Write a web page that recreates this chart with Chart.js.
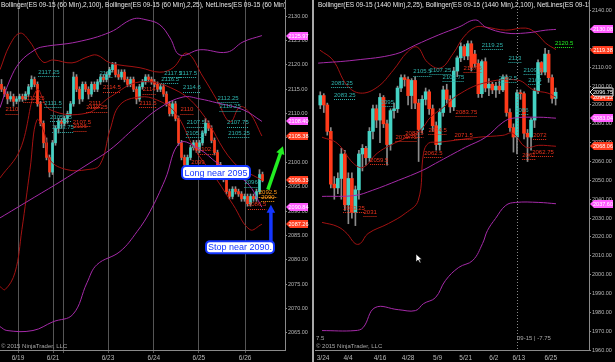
<!DOCTYPE html>
<html>
<head>
<meta charset="utf-8">
<script src="https://cdn.jsdelivr.net/npm/chart.js@4.4.1/dist/chart.umd.min.js"></script>
<style>
  body { margin: 0; background: #000; }
  #wrap { position: relative; width: 615px; height: 362px; background: #000; overflow: hidden; }
  #left { position: absolute; left: 0; top: 0; width: 313px; height: 362px; }
  #right { position: absolute; left: 315px; top: 0; width: 300px; height: 362px; }
  #sep { position: absolute; left: 312px; top: 0; width: 2px; height: 362px; background: #a8a8a8; }
</style>
</head>
<body>
<div id="wrap">
  <canvas id="left" width="313" height="362"></canvas>
  <div id="sep"></div>
  <canvas id="right" width="300" height="362"></canvas>
</div>
<script>
const FONT = '"Liberation Sans", Arial, sans-serif';
const UP = '#45d2c4';
const DOWN = '#ff3a1a';
const WICK = '#8c8c8c';
const BAND25 = '#a31212';
const BAND100 = '#a52aa8';
const TEAL = '#2fb3ad';
const LBL_RED = '#e8321c';
const ORANGE = '#ff9a1a';
const GREEN = '#22ee22';
const MAGENTA = '#ff5cff';
const TAG_RED = '#ff3d1f';

// ---------- 60 min panel (left) ----------
// [open, high, low, close], one per hourly bar
const leftCandles = [
  [2116, 2117, 2114.5, 2115], [2115, 2115.5, 2113.5, 2114], [2114, 2114.5, 2112, 2113],
  [2113, 2114.5, 2112.5, 2113.5], [2113.5, 2114, 2111.5, 2112.5], [2112.5, 2113.5, 2112, 2113],
  [2113, 2114, 2112.5, 2113.5], [2113.5, 2114, 2112.5, 2113], [2113, 2114.5, 2112.75, 2114],
  [2114, 2116, 2113.5, 2115.5], [2115.5, 2117.75, 2115, 2117], [2117, 2117.5, 2115.5, 2116],
  [2116, 2116.5, 2111.5, 2112], [2112, 2112.5, 2107.5, 2108], [2108, 2108.5, 2103, 2104],
  [2104, 2105, 2100.5, 2101], [2101, 2101.5, 2097, 2098], [2098, 2104.5, 2097.5, 2104],
  [2104, 2107.5, 2103.5, 2107], [2107, 2109, 2106, 2108.5], [2108.5, 2109, 2107, 2108],
  [2108, 2109.5, 2107.5, 2109], [2109, 2110.5, 2108, 2110], [2110, 2112.5, 2109.5, 2112],
  [2112, 2118.5, 2111.5, 2117.5], [2117.5, 2118, 2114.5, 2115], [2115, 2115.5, 2112, 2113],
  [2113, 2116.5, 2112.5, 2116], [2116, 2116.5, 2114.5, 2115], [2115, 2115.5, 2113, 2114],
  [2114, 2116.5, 2113.5, 2116], [2116, 2116.5, 2114.5, 2115], [2115, 2117, 2114.5, 2116.5],
  [2116.5, 2118, 2116, 2117.5], [2117.5, 2118, 2116.5, 2117], [2117, 2118.5, 2116.5, 2118],
  [2118, 2119.5, 2117.5, 2119], [2119, 2120.5, 2118.5, 2120], [2120, 2120.5, 2117.5, 2118],
  [2118, 2119, 2117, 2117.5], [2117.5, 2119, 2117, 2118.5], [2118.5, 2119, 2116.5, 2117],
  [2117, 2117.5, 2115.5, 2116], [2116, 2117.5, 2115.5, 2117], [2117, 2117.5, 2114.5, 2115],
  [2115, 2115.5, 2112, 2113], [2113, 2116, 2112.5, 2115.5], [2115.5, 2117, 2115, 2116.5],
  [2116.5, 2118, 2116, 2117.5], [2117.5, 2118, 2116.5, 2117], [2117, 2117.5, 2116, 2116.5],
  [2116.5, 2117, 2115.5, 2116], [2116, 2116.5, 2114.5, 2115], [2115, 2116, 2114.5, 2115.5],
  [2115.5, 2116, 2113.5, 2114], [2114, 2114.5, 2111.5, 2112], [2112, 2112.5, 2109.5, 2110],
  [2110, 2112.5, 2109.5, 2112], [2112, 2112.5, 2108.5, 2109], [2109, 2109.5, 2103.5, 2104],
  [2104, 2104.5, 2100.5, 2101], [2101, 2101.5, 2099, 2099.5], [2099.5, 2101.5, 2099, 2101],
  [2101, 2103.5, 2100.5, 2103], [2103, 2104.5, 2102.5, 2104], [2104, 2104.5, 2102, 2102.5],
  [2102.5, 2104.5, 2102, 2104], [2104, 2106.5, 2103.5, 2106], [2106, 2109, 2105.5, 2108],
  [2108, 2108.5, 2106.5, 2107], [2107, 2107.5, 2104, 2104.5], [2104.5, 2105, 2101.5, 2102],
  [2102, 2102.5, 2099, 2099.5], [2099.5, 2100, 2097.5, 2098], [2098, 2098.5, 2096, 2096.5],
  [2096.5, 2097, 2093.5, 2094], [2094, 2094.5, 2092.5, 2093], [2093, 2095, 2092.5, 2094.5],
  [2094.5, 2095, 2093.5, 2094], [2094, 2094.5, 2093, 2093.5], [2093.5, 2094, 2092, 2092.5],
  [2092.5, 2093.5, 2092, 2093], [2093, 2093.5, 2091, 2091.5], [2091.5, 2093.5, 2091, 2093],
  [2093, 2093.5, 2092, 2092.5], [2092.5, 2094.5, 2092, 2094], [2094, 2098.5, 2093.5, 2097.5],
  [2097.5, 2098, 2096, 2096.25]
];
// Bollinger(25) and Bollinger(100) read as [bar, price]
const leftUpper25 = [[-0.5, 2119], [2.8, 2124.1], [6.2, 2126.5], [9.5, 2124.7], [13.8, 2120.6], [17.2, 2121],
  [23.5, 2120.4], [28.5, 2121.6], [31.8, 2122], [36.2, 2120.4], [46.2, 2119.4], [52.8, 2118.5], [57.2, 2119.4],
  [61.8, 2122.4], [67.2, 2117.5], [71.8, 2112.8], [76.2, 2108.3], [79.5, 2111.4], [82.8, 2110.1], [86.8, 2105.4]];
const leftMid25 = [[-0.5, 2096.8], [6.2, 2102.6], [11.8, 2114.9], [16.2, 2110.8], [28.5, 2110.1], [36.2, 2113.4],
  [46.2, 2116.5], [57.8, 2114.9], [66.2, 2110.6], [77.2, 2100.1], [86.8, 2096.3]];
const leftLower25 = [[-0.5, 2074.5], [1.2, 2073.9], [4.5, 2077.4], [6.8, 2086.2], [9.5, 2098.5], [11.8, 2108.7],
  [14.5, 2105.6], [16.2, 2100.5], [21.8, 2098.5], [28.5, 2098.5], [32.8, 2099.5], [36.2, 2106.7], [39.5, 2111.8],
  [46.2, 2113.4], [51.8, 2112.8], [57.8, 2110.3], [64.5, 2102.6], [71.8, 2096.4], [77.2, 2091.3], [82.8, 2086.2],
  [86.8, 2087.3]];
const leftUpper100 = [[-0.5, 2111.2], [2.8, 2116.9], [6.2, 2120.6], [11.2, 2123.1], [13.8, 2123.7], [25.2, 2124.7],
  [36.2, 2126.7], [43.8, 2129.4], [48.5, 2129.2], [52.8, 2128.2], [56.2, 2125.5], [59.5, 2122], [66.2, 2123.1],
  [75.2, 2122.6], [80.5, 2124.7], [86.8, 2126]];
const leftMid100 = [[-0.5, 2088.6], [9.5, 2092.3], [19.5, 2096], [28.5, 2099.5], [36.2, 2102.6], [44.5, 2107.1],
  [52.8, 2111.2], [60.5, 2113.4], [66.2, 2113], [71.8, 2112.2], [80.5, 2110.8], [86.8, 2108.4]];
const leftLower100 = [[-0.5, 2066.3], [1.8, 2065.5], [10.5, 2065.5], [17.2, 2067.3], [23.8, 2068.8], [28.5, 2075.3],
  [31.8, 2079], [39.5, 2081.7], [45.2, 2085.8], [49.5, 2089.9], [54.5, 2096.4], [59.5, 2104], [66.2, 2102.6],
  [71.8, 2099.9], [81.8, 2095.8], [86.8, 2090.8]];
// NetLines labels [bar, price, text]
const leftTealLabels = [[15.8, 2118.5, '2117.25'], [17.2, 2112.2, '2111.5'], [34.8, 2118.3, '2117'],
  [57.2, 2118.3, '2117.5'], [62.2, 2118.3, '2117.5'], [56.2, 2117.1, '2116.5'], [63.5, 2115.3, '2114.6'],
  [75.5, 2113.2, '2112.25'], [76.2, 2111.4, '2110.25'], [19.8, 2109.3, '2105.75'], [20.5, 2107.1, '2103.75'],
  [64.8, 2108.1, '2107.5'], [78.8, 2108.1, '2107.75'], [64.5, 2106, '2105.5'], [79.2, 2106, '2105.25'],
  [83.2, 2095.8, '2096']];
const leftRedLabels = [[3.5, 2110.8, '2110'], [10.8, 2113.2, '2112.25'], [36.8, 2115.3, '2114.5'],
  [49.2, 2114.9, '2114'], [48.8, 2112.2, '2111.5'], [61.8, 2110.8, '2110'], [31.8, 2111.2, '2110.25'],
  [31.2, 2112.2, '2111'], [26.8, 2108.3, '2107.5'], [26.2, 2107.3, '2106'], [68.5, 2102.6, '2102.5'],
  [65.5, 2099.9, '2099'], [85.2, 2091.3, '2086.5']];
const leftOrangeLabels = [[88.8, 2093.8, '2092.5'], [88.8, 2092.9, '2090']];
const leftMagentaTags = [2125.97, 2108.40, 2090.84];
const leftRedTags = [2105.38, 2096.33, 2087.26];
const leftYTicks = [2130, 2125, 2120, 2115, 2110, 2105, 2100, 2095, 2090, 2085, 2080, 2075, 2070, 2065];
const leftDayBars = [5.5, 17.2, 20.5, 35.5, 50.8, 65.8, 81.2];
const leftDayLabels = ['6/19', '6/21', '', '6/23', '6/24', '6/25', '6/26'];

// ---------- 1440 min panel (right) ----------
const rightCandles = [
  [2090, 2097, 2088, 2095], [2095, 2096, 2086, 2090], [2090, 2091, 2074, 2076], [2076, 2078, 2046, 2048],
  [2048, 2052, 2040, 2046], [2046, 2054, 2043, 2051], [2051, 2067, 2040, 2064], [2064, 2066, 2034, 2037],
  [2037, 2054, 2027, 2051], [2051, 2054, 2030, 2033], [2033, 2047, 2026, 2045], [2045, 2066, 2040, 2064],
  [2064, 2069, 2055, 2067], [2067, 2068, 2058, 2062], [2062, 2078, 2060, 2076], [2076, 2090, 2072, 2088],
  [2088, 2090, 2078, 2082], [2082, 2096, 2070, 2094], [2094, 2095, 2078, 2080], [2080, 2082, 2058, 2069],
  [2069, 2088, 2066, 2087], [2087, 2091, 2083, 2088], [2088, 2100, 2086, 2099], [2099, 2106, 2097, 2104.5],
  [2104.5, 2106, 2100, 2103.5], [2103.5, 2105, 2090, 2095], [2095, 2104, 2088, 2103], [2103, 2105, 2088, 2091],
  [2091, 2093, 2060, 2077], [2077, 2095, 2075, 2093], [2093, 2099, 2090, 2097], [2097, 2098, 2085, 2088],
  [2088, 2090, 2076, 2079], [2079, 2081, 2066, 2069], [2069, 2088, 2066, 2086], [2086, 2100, 2084, 2098],
  [2098, 2101, 2091, 2093], [2093, 2095, 2086, 2089], [2089, 2110, 2087, 2108], [2108, 2116, 2105, 2115],
  [2115, 2123, 2113, 2121], [2121, 2122, 2114, 2116], [2116, 2124, 2114, 2122.5], [2122.5, 2124, 2108, 2110],
  [2117, 2119, 2110, 2112], [2112, 2114, 2094, 2096], [2096, 2114, 2094, 2113], [2113, 2115, 2097, 2099],
  [2099, 2104, 2095, 2101], [2101, 2102, 2096, 2098], [2098, 2102, 2094, 2100], [2100, 2103, 2096, 2098],
  [2098, 2106, 2097, 2104.5], [2104.5, 2106, 2084, 2086], [2086, 2088, 2076, 2078], [2078, 2080, 2065, 2073],
  [2073, 2098, 2064, 2096.5], [2096.5, 2098, 2093, 2096], [2096, 2097, 2072, 2075], [2075, 2077, 2060, 2073],
  [2073, 2083, 2066, 2082], [2082, 2099, 2078, 2097.5], [2097.5, 2114, 2096, 2112.5], [2112.5, 2113, 2106, 2107.5],
  [2107.5, 2120, 2106, 2117], [2117, 2119, 2102, 2104.5], [2104.5, 2106, 2091, 2093.5], [2093.5, 2099, 2090, 2096.75]
];
const rightUpper25 = [[0.9, 2119.1], [4.6, 2113.8], [8.6, 2100.5], [12.4, 2096.3], [17.2, 2099.4], [21.8, 2108.5],
  [25.8, 2118.1], [28.6, 2120.7], [31.5, 2112.7], [35.2, 2109.6], [38.9, 2117.5], [41.8, 2126], [45.2, 2131.3],
  [48.1, 2131.3], [53.8, 2129.7], [59.5, 2130.8], [62.4, 2128.2], [65.2, 2122.8], [68.1, 2119.4]];
const rightMid25 = [[1.5, 2072.9], [5.8, 2069.7], [10.4, 2059.1], [13.2, 2056.9], [17.2, 2064.4], [20.9, 2068.6],
  [25.8, 2072.9], [29.5, 2076.6], [32.4, 2083.5], [36.1, 2088.8], [40.1, 2095.2], [47.5, 2101.6], [57.2, 2103.2],
  [61.8, 2097.9], [65.8, 2096.3], [68.1, 2094.1]];
const rightLower25 = [[1.5, 2027.7], [5.8, 2025.6], [8.6, 2021.8], [10.9, 2016.5], [12.4, 2016.5], [14.6, 2021.8],
  [20.4, 2027.1], [25.2, 2032.5], [28.9, 2039.4], [30.4, 2064.4], [31.8, 2069.7], [34.6, 2070.2], [39.5, 2071.3],
  [46.1, 2072.9], [53, 2073.9], [55.8, 2075], [59.5, 2067.6], [63.2, 2068.6], [68.1, 2068.1]];
const rightUpper100 = [[0.4, 2112.2], [10.9, 2113.8], [22.4, 2117], [28.1, 2121.8], [34.6, 2127.1], [40.4, 2131.3],
  [45.2, 2135.1], [48.1, 2131.3], [53.8, 2128.2], [59.5, 2128.2], [65.2, 2129.7], [68.1, 2130.1]];
const rightMid100 = [[1.5, 2041.5], [10.9, 2042], [15.8, 2044.7], [23.2, 2050], [30.1, 2055.3], [33.8, 2059],
  [42.4, 2067.6], [48.1, 2072.9], [53, 2080.8], [55.8, 2083], [63.2, 2083.5], [68.1, 2083]];
const rightLower100 = [[1.5, 1970.3], [10.9, 1970.3], [13.2, 1971.9], [16.6, 1982.5], [23.2, 1981.4], [28.1, 1980.9],
  [30.4, 1984.6], [33.8, 1987.8], [36.6, 1996.8], [40.4, 2003.8], [44.4, 2007.5], [47.2, 2016.5], [48.6, 2023.4],
  [50.9, 2029.8], [53.8, 2036.7], [56.6, 2038.3], [63.2, 2038.3], [68.1, 2037.6]];
const rightTealLabels = [[50, 2121.8, '2119.25'], [56.4, 2114.9, '2113'], [30.1, 2107.6, '2105.5'],
  [35.2, 2108.5, '2107.25'], [38.9, 2104.8, '2102.75'], [54.4, 2104.2, '2092.5'], [7.2, 2101.6, '2083.25'],
  [8, 2095.2, '2083.25'], [61.5, 2108.5, '2109.5'], [62.1, 2103.2, '2104'], [58.4, 2087.2, '2086'],
  [20.1, 2091.5, '2095']];
const rightRedLabels = [[44.4, 2109.5, '2107.5'], [42.6, 2086.2, '2083.75'], [25.5, 2072.9, '2079.75'],
  [27.8, 2075, '2082.5'], [34.4, 2076.6, '2074.5'], [41.8, 2073.9, '2071.5'], [33.2, 2064.4, '2062.5'],
  [17.8, 2060.6, '2059.5'], [10.6, 2035.1, '2033.25'], [15.2, 2033, '2031'], [63.5, 2073.9, '2072'],
  [60.4, 2063.3, '2061'], [64.4, 2064.9, '2062.75']];
const rightGreenLabels = [[70.4, 2122.8, '2120.5']];
const rightMagentaTags = [2130.08, 2083.04, 2037.60];
const rightRedTags = [2119.38, 2094.12, 2068.06];
const rightLastTag = 2096.75;
const rightYTicks = [2140, 2130, 2120, 2110, 2100, 2090, 2080, 2070, 2060, 2050, 2040, 2030, 2020, 2010,
  2000, 1990, 1980, 1970, 1960];
const rightDates = [1.8, 8.9, 18, 26, 34.4, 42.4, 50.4, 57.5, 66.6];
const rightDateLabels = ['3/24', '4/4', '4/16', '4/28', '5/9', '5/21', '6/2', '6/13', '6/25'];
const rightCursorBar = 56.9;

Chart.defaults.font.family = FONT;
Chart.defaults.font.size = 7;
Chart.defaults.color = '#b8b8b8';

const pts = arr => arr.map(([x, y]) => ({ x, y }));

function candleSets(candles, start, bodyW) {
  return [
    {
      type: 'bar', order: 3, grouped: false, barThickness: 1, backgroundColor: WICK,
      data: candles.map((c, i) => ({ x: start + i, y: [c[2], c[1]] }))
    },
    {
      type: 'bar', order: 2, grouped: false, barThickness: bodyW,
      backgroundColor: candles.map(c => c[3] >= c[0] ? UP : DOWN),
      data: candles.map((c, i) => ({ x: start + i, y: [Math.min(c[0], c[3]), Math.max(c[0], c[3])] }))
    }
  ];
}

function band(data, color) {
  return { type: 'line', order: 1, data: pts(data), borderColor: color, borderWidth: 1,
    pointRadius: 0, tension: 0.4, fill: false };
}

function drawTag(ctx, x0, py, w, fill, stroke, text) {
  ctx.beginPath();
  ctx.moveTo(x0, py);
  ctx.lineTo(x0 + 4, py - 4);
  ctx.lineTo(x0 + w, py - 4);
  ctx.lineTo(x0 + w, py + 4);
  ctx.lineTo(x0 + 4, py + 4);
  ctx.closePath();
  ctx.fillStyle = fill;
  ctx.fill();
  if (stroke) { ctx.strokeStyle = stroke; ctx.lineWidth = 1; ctx.stroke(); }
  ctx.fillStyle = '#fff';
  ctx.font = '5.5px ' + FONT;
  ctx.textAlign = 'center';
  ctx.textBaseline = 'middle';
  ctx.fillText(text, x0 + 3 + (w - 3) / 2, py + 0.5);
}

function drawArrow(ctx, x1, y1, x2, y2, color) {
  const ang = Math.atan2(y2 - y1, x2 - x1);
  const hl = 9;
  ctx.strokeStyle = color;
  ctx.fillStyle = color;
  ctx.lineWidth = 3.5;
  ctx.beginPath();
  ctx.moveTo(x1, y1);
  ctx.lineTo(x2 - hl * 0.8 * Math.cos(ang), y2 - hl * 0.8 * Math.sin(ang));
  ctx.stroke();
  ctx.beginPath();
  ctx.moveTo(x2, y2);
  ctx.lineTo(x2 - hl * Math.cos(ang - 0.5), y2 - hl * Math.sin(ang - 0.5));
  ctx.lineTo(x2 - hl * Math.cos(ang + 0.5), y2 - hl * Math.sin(ang + 0.5));
  ctx.closePath();
  ctx.fill();
}

function drawCallout(ctx, cx, cy, w, h, text) {
  const x = cx - w / 2, y = cy - h / 2;
  ctx.beginPath();
  ctx.roundRect(x, y, w, h, 4);
  ctx.fillStyle = '#fff';
  ctx.fill();
  ctx.strokeStyle = '#1436ff';
  ctx.lineWidth = 2;
  ctx.stroke();
  ctx.fillStyle = '#1436ff';
  ctx.font = '9px ' + FONT;
  ctx.textAlign = 'center';
  ctx.textBaseline = 'middle';
  ctx.fillText(text, cx, cy + 0.5);
}

function drawCursor(ctx, x, y) {
  // mouse pointer left in the screenshot
  ctx.beginPath();
  ctx.moveTo(x, y);
  ctx.lineTo(x, y + 8);
  ctx.lineTo(x + 2, y + 6);
  ctx.lineTo(x + 4, y + 9);
  ctx.lineTo(x + 5, y + 8.5);
  ctx.lineTo(x + 3.5, y + 5.5);
  ctx.lineTo(x + 6, y + 5.5);
  ctx.closePath();
  ctx.fillStyle = '#fff';
  ctx.fill();
  ctx.strokeStyle = '#000';
  ctx.lineWidth = 0.6;
  ctx.stroke();
}

function overlay(cfg) {
  return {
    id: 'overlay',
    afterDatasetsDraw(chart) {
      const { ctx, chartArea: a } = chart;
      const x = chart.scales.x, y = chart.scales.y;
      ctx.save();
      ctx.beginPath();
      ctx.rect(a.left, a.top, a.right - a.left, a.bottom - a.top);
      ctx.clip();
      if (cfg.cursorBar !== undefined) {
        const cx = Math.round(x.getPixelForValue(cfg.cursorBar)) + 0.5;
        ctx.strokeStyle = '#8a8a8a';
        ctx.setLineDash([1, 2]);
        ctx.lineWidth = 1;
        ctx.beginPath(); ctx.moveTo(cx, a.top); ctx.lineTo(cx, a.bottom); ctx.stroke();
        ctx.setLineDash([]);
      }
      ctx.font = '6px ' + FONT;
      ctx.textAlign = 'center';
      ctx.textBaseline = 'middle';
      cfg.labels.forEach(([list, color]) => {
        list.forEach(([i, p, t]) => {
          const px = x.getPixelForValue(i), py = y.getPixelForValue(p);
          ctx.fillStyle = color;
          ctx.fillText(t, px, py);
          const w = ctx.measureText(t).width;
          ctx.strokeStyle = color;
          ctx.lineWidth = 1;
          ctx.setLineDash([1, 1]);
          ctx.beginPath();
          ctx.moveTo(px - w / 2, Math.round(py) + 4.5);
          ctx.lineTo(px + w / 2, Math.round(py) + 4.5);
          ctx.stroke();
          ctx.setLineDash([]);
        });
      });
      // header and footer
      ctx.font = '6.5px ' + FONT;
      ctx.textAlign = 'left';
      ctx.fillStyle = '#e6e6e6';
      ctx.fillText(cfg.header, a.left + cfg.headerX, 5);
      ctx.font = '6px ' + FONT;
      ctx.fillStyle = '#a8a8a8';
      ctx.fillText('\u00a9 2015 NinjaTrader, LLC', a.left + 1, a.bottom - 4);
      (cfg.notes || []).forEach(([nx, t]) => ctx.fillText(t, a.left + nx, a.bottom - 12));
      if (cfg.pointer) drawCursor(ctx, a.left + cfg.pointer[0], cfg.pointer[1]);
      ctx.restore();
    },
    afterDraw(chart) {
      const { ctx, chartArea: a } = chart;
      const x = chart.scales.x, y = chart.scales.y;
      ctx.save();
      cfg.tags.forEach(([list, fill, stroke]) => {
        list.forEach(v => drawTag(ctx, a.right + 1, Math.round(y.getPixelForValue(v)), cfg.tagW, fill, stroke, v.toFixed(2)));
      });
      (cfg.arrows || []).forEach(([b1, p1, b2, p2, color]) => {
        drawArrow(ctx, x.getPixelForValue(b1), y.getPixelForValue(p1), x.getPixelForValue(b2), y.getPixelForValue(p2), color);
      });
      (cfg.callouts || []).forEach(([b, p, w, h, t]) => {
        drawCallout(ctx, x.getPixelForValue(b), y.getPixelForValue(p), w, h, t);
      });
      ctx.restore();
    }
  };
}

function makeChart(id, o) {
  return new Chart(document.getElementById(id), {
    type: 'bar',
    data: { datasets: [...candleSets(o.candles, o.start, o.bodyW), ...o.lines] },
    options: {
      responsive: false,
      animation: false,
      devicePixelRatio: 1,
      layout: { padding: 0 },
      plugins: { legend: { display: false }, tooltip: { enabled: false } },
      scales: {
        x: {
          type: 'linear', min: o.xMin, max: o.xMax, offset: false,
          grid: { display: o.xGrid, offset: false, color: '#555', lineWidth: 1, tickLength: 3, drawOnChartArea: o.xGrid },
          border: { display: true, color: '#8a8a8a' },
          ticks: { autoSkip: false, maxRotation: 0, padding: 1, color: '#b8b8b8', font: { size: 6.5 },
            callback: (v, i) => o.xLabels[i] },
          afterBuildTicks: s => { s.ticks = o.xTicks.map(v => ({ value: v })); },
          afterFit: s => { s.height = 12; s.paddingLeft = 0; s.paddingRight = 0; }
        },
        y: {
          position: 'right', min: o.yMin, max: o.yMax,
          grid: { drawOnChartArea: false, color: '#8a8a8a', tickLength: 2 },
          border: { display: true, color: '#8a8a8a' },
          ticks: { padding: 1, color: '#b8b8b8', font: { size: 5.5 }, callback: v => v.toFixed(2) },
          afterBuildTicks: s => { s.ticks = o.yTicks.map(v => ({ value: v })); },
          afterFit: s => { s.width = o.axisW; s.paddingTop = 0; s.paddingBottom = 0; }
        }
      }
    },
    plugins: [overlay(o.overlay)]
  });
}

makeChart('left', {
  candles: leftCandles, start: 0, bodyW: 2,
  xMin: -0.5, xMax: 94.5, yMin: 2061.5, yMax: 2133.3, axisW: 28,
  xTicks: leftDayBars, xLabels: leftDayLabels, xGrid: true, yTicks: leftYTicks,
  lines: [band(leftUpper100, BAND100), band(leftMid100, BAND100), band(leftLower100, BAND100),
    band(leftUpper25, BAND25), band(leftMid25, BAND25), band(leftLower25, BAND25)],
  overlay: {
    header: 'Bollinger(ES 09-15 (60 Min),2,100), Bollinger(ES 09-15 (60 Min),2,25), NetLines(ES 09-15 (60 Min),3,5,Color [Line],Color [Line]',
    headerX: 1,
    labels: [[leftTealLabels, TEAL], [leftRedLabels, LBL_RED], [leftOrangeLabels, ORANGE]],
    tags: [[leftMagentaTags, MAGENTA], [leftRedTags, TAG_RED]],
    tagW: 22,
    arrows: [[88.8, 2094.4, 93.8, 2103.3, GREEN], [89.8, 2082.2, 89.8, 2091.3, '#1436ff']],
    callouts: [[71.5, 2097.9, 68, 13, 'Long near 2095'], [79.5, 2082.6, 68, 12, 'Stop near 2090.']]
  }
});

makeChart('right', {
  candles: rightCandles, start: 1, bodyW: 3,
  xMin: -0.5, xMax: 77.5, yMin: 1960, yMax: 2145.7, axisW: 26,
  xTicks: rightDates, xLabels: rightDateLabels, xGrid: false, yTicks: rightYTicks,
  lines: [band(rightUpper100, BAND100), band(rightMid100, BAND100), band(rightLower100, BAND100),
    band(rightUpper25, BAND25), band(rightMid25, BAND25), band(rightLower25, BAND25)],
  overlay: {
    header: 'Bollinger(ES 09-15 (1440 Min),2,25), Bollinger(ES 09-15 (1440 Min),2,100), NetLines(ES 09-15 (1440 Min),3,5,Color [Line],Color [Line]',
    headerX: 3,
    labels: [[rightTealLabels, TEAL], [rightRedLabels, LBL_RED], [rightGreenLabels, GREEN]],
    tags: [[rightMagentaTags, MAGENTA], [rightRedTags, TAG_RED], [[rightLastTag], '#000', '#e0e0e0']],
    tagW: 23,
    cursorBar: rightCursorBar,
    pointer: [101, 254],
    notes: [[1, '7.5'], [202, '09-15 | -7.75']]
  }
});
</script>
</body>
</html>
